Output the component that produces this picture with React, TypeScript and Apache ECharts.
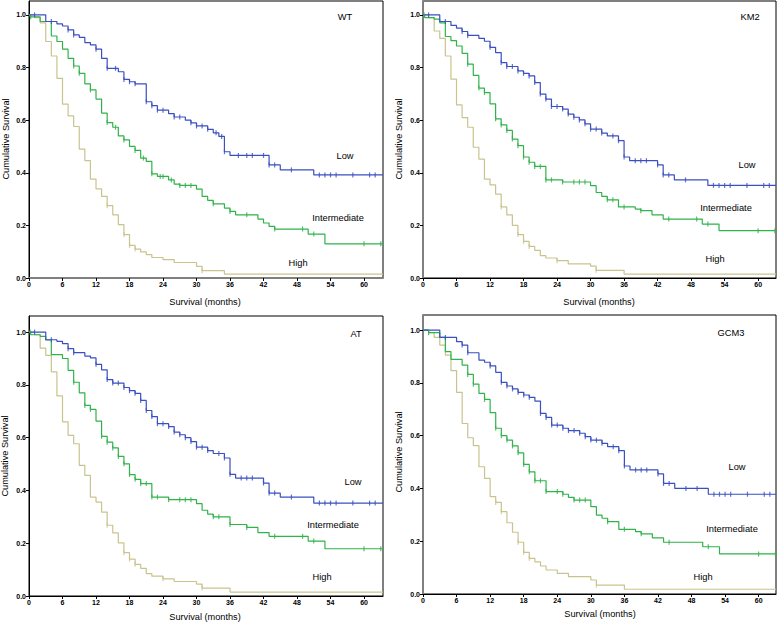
import React, { useEffect, useRef } from "react";
import * as echarts from "echarts";

const xTicks = [0, 6, 12, 18, 24, 30, 36, 42, 48, 54, 60];
const yTicks = [0, 0.2, 0.4, 0.6, 0.8, 1.0];
const groupNames = ["Low", "Intermediate", "High"];
const panelTitles = ["WT", "KM2", "AT", "GCM3"];
const xTitle = "Survival (months)";
const yTitle = "Cumulative Survival";

// ---- WT ----
const wtLow = [[0,1],[3,0.975],[5,0.966],[6,0.958],[7,0.943],[8,0.924],[9,0.915],[10,0.895],[11,0.886],[12,0.87],[13,0.835],[14,0.797],[16,0.784],[17,0.755],[18,0.746],[19,0.738],[21,0.67],[22,0.655],[23,0.638],[25,0.625],[26,0.612],[28,0.6],[29,0.59],[30,0.578],[32,0.565],[33,0.552],[34,0.538],[35,0.48],[36,0.466],[43,0.43],[45,0.411],[51,0.392]];
const wtInt = [[0,1],[0.2,0.993],[2,0.975],[4,0.92],[5,0.899],[6,0.87],[7,0.835],[8,0.806],[9,0.778],[10,0.738],[11,0.715],[12,0.68],[13,0.627],[14,0.591],[15,0.573],[16,0.54],[17,0.525],[18,0.5],[19,0.485],[20,0.456],[21,0.443],[22,0.396],[23,0.386],[25,0.373],[26,0.357],[27,0.352],[30,0.338],[31,0.31],[32,0.295],[33,0.282],[35,0.266],[36,0.253],[37,0.24],[41,0.224],[42,0.209],[43,0.196],[44,0.186],[50,0.167],[53,0.13]];
const wtHigh = [[0,1],[1,0.99],[2,0.97],[3,0.899],[4,0.844],[5,0.759],[6,0.661],[7,0.616],[8,0.576],[9,0.49],[10,0.446],[11,0.376],[12,0.339],[13,0.31],[14,0.275],[15,0.24],[16,0.203],[17,0.165],[18,0.124],[19,0.11],[20,0.099],[21,0.089],[22,0.078],[24,0.07],[26,0.059],[30,0.044],[31,0.028],[35,0.015]];
const wtLowC = [1,4,7,8,12,14,15.5,17,18,19,21,22,23,24,26,27,29,30,31,32,33.5,34.5,35,37.5,39,40,42,43,44,47,52,53,54,55,58,61,62];
const wtIntC = [0.3,8,9,11,14,15.5,17,19,20.5,22,23.5,24,25.5,27,28,29,33,36,39,44,49,51,60,63];
const wtHighC = [14,17,18,19,31];

// ---- KM2 ----
const km2Low = [[0,1],[3,0.975],[5,0.96],[6,0.95],[7,0.937],[8,0.922],[10,0.911],[11,0.9],[12,0.877],[13,0.857],[14,0.819],[15,0.804],[17,0.787],[18,0.778],[19,0.768],[20,0.743],[21,0.699],[22,0.68],[23,0.652],[25,0.642],[26,0.623],[27,0.611],[28,0.601],[29,0.586],[30,0.566],[32,0.551],[33,0.54],[35,0.522],[36,0.46],[37,0.446],[42,0.43],[43,0.392],[45,0.373],[51,0.352]];
const km2Int = [[0,1],[0.3,0.99],[2,0.984],[3,0.97],[4,0.918],[5,0.902],[6,0.882],[7,0.854],[8,0.813],[9,0.77],[10,0.722],[11,0.705],[12,0.662],[13,0.605],[14,0.582],[15,0.561],[16,0.528],[17,0.503],[18,0.46],[19,0.44],[20,0.424],[22,0.373],[25,0.365],[30,0.351],[31,0.325],[32,0.31],[33,0.297],[35,0.27],[38,0.262],[39,0.256],[41,0.24],[43,0.224],[50,0.205],[53,0.18]];
const km2High = [[0,1],[1,0.99],[2,0.939],[3,0.911],[4,0.844],[5,0.756],[6,0.658],[7,0.61],[8,0.573],[9,0.497],[10,0.452],[11,0.376],[12,0.354],[13,0.319],[14,0.27],[15,0.24],[16,0.2],[17,0.165],[18,0.139],[19,0.12],[20,0.105],[21,0.085],[22,0.076],[24,0.066],[26,0.054],[30,0.045],[31,0.029],[36,0.015]];
const km2LowC = [1,4,7,8,12,14,15,16,17,18,19,20,21,22,23,24,25,26,27,28,29,30,31,32,34,35,36,38,39,40,42,43,44,47,52,53,54,55,58,61,62];
const km2IntC = [0.2,8,10,11,13,14,15,16,17,18,19,20,21,22,23,25,27,28,29,33,34,36,39,44,49,51,60,63];
const km2HighC = [14,17,18,19,24,31];

// ---- AT ----
const atLow = [[0,1],[3,0.971],[5,0.965],[6,0.956],[7,0.937],[8,0.922],[10,0.909],[11,0.902],[12,0.878],[13,0.857],[14,0.82],[15,0.807],[17,0.79],[18,0.778],[19,0.768],[20,0.741],[21,0.703],[22,0.68],[23,0.653],[25,0.642],[26,0.621],[27,0.611],[28,0.6],[29,0.585],[30,0.564],[32,0.551],[33,0.54],[35,0.523],[36,0.461],[37,0.447],[42,0.428],[43,0.39],[45,0.375],[51,0.352]];
const atInt = [[0,1],[0.3,0.99],[2,0.984],[3,0.97],[4,0.915],[6,0.9],[7,0.855],[8,0.81],[9,0.77],[10,0.722],[11,0.707],[12,0.663],[13,0.605],[14,0.583],[15,0.561],[16,0.529],[17,0.501],[18,0.46],[19,0.442],[20,0.426],[22,0.375],[25,0.365],[30,0.35],[31,0.325],[32,0.31],[33,0.3],[36,0.271],[39,0.26],[41,0.24],[43,0.226],[50,0.208],[53,0.179]];
const atHigh = [[0,1],[1,0.99],[2,0.939],[3,0.912],[4,0.849],[5,0.758],[6,0.66],[7,0.609],[8,0.577],[9,0.495],[10,0.457],[11,0.375],[12,0.356],[13,0.318],[14,0.268],[15,0.239],[16,0.201],[17,0.164],[18,0.14],[19,0.12],[20,0.105],[21,0.085],[22,0.075],[24,0.065],[26,0.055],[30,0.045],[31,0.03],[36,0.015]];
const atLowC = [1,4,7,8,12,14,15,16,17,18,19,20,21,22,23,24,25,26,27,28,29,30,31,32,34,35,36,38,39,40,42,43,44,47,52,53,54,55,58,61,62];
const atIntC = [0.2,8,10,11,13,14,15,16,17,18,19,20,21,22,23,25,27,28,29,33,34,36,39,44,49,51,60,63];
const atHighC = [14,17,18,19,24,31];

// ---- GCM3 ----
const gcmLow = [[0,1],[3,0.972],[6,0.956],[7,0.943],[8,0.914],[10,0.886],[11,0.878],[12,0.864],[13,0.84],[14,0.802],[15,0.788],[16,0.777],[17,0.764],[18,0.754],[19,0.745],[20,0.731],[21,0.684],[22,0.669],[23,0.64],[25,0.628],[26,0.619],[28,0.609],[29,0.596],[30,0.583],[32,0.571],[33,0.558],[35,0.543],[36,0.485],[37,0.47],[42,0.455],[43,0.419],[45,0.4],[51,0.378]];
const gcmInt = [[0,1],[1,0.99],[3,0.972],[4,0.918],[5,0.889],[7,0.867],[8,0.832],[9,0.795],[10,0.76],[11,0.737],[12,0.687],[13,0.628],[14,0.6],[15,0.583],[16,0.561],[17,0.535],[18,0.491],[19,0.463],[20,0.429],[22,0.388],[25,0.378],[26,0.366],[27,0.356],[30,0.331],[31,0.299],[32,0.287],[33,0.274],[35,0.245],[38,0.236],[39,0.228],[41,0.213],[43,0.196],[50,0.179],[53,0.152]];
const gcmHigh = [[0,1],[1,0.99],[2,0.972],[3,0.943],[4,0.905],[5,0.846],[6,0.764],[7,0.646],[8,0.592],[9,0.562],[10,0.482],[11,0.438],[12,0.369],[13,0.347],[14,0.312],[15,0.27],[16,0.234],[17,0.196],[18,0.158],[19,0.135],[20,0.122],[21,0.106],[22,0.091],[24,0.078],[26,0.066],[30,0.053],[31,0.034],[36,0.018]];
const gcmLowC = [4,7,8,12,14,15,16,17,18,19,21,22,23,24,25,26,27,28,29,30,31,32,34,35,36,38,39,40,42,43,44,47,49,52,53,54,55,58,61,62];
const gcmIntC = [1,8,9,11,13,14,15,16,17,18,19,20,21,22,24,25,27,28,29,33,36,39,44,51,60,63];
const gcmHighC = [13,14,17,18,19,31];

const COLORS = ["#3a4fc0", "#2fb34a", "#c9c38d"];
const FONT = "'Liberation Sans', Arial, sans-serif";

const panels = [
  { curves: [wtLow, wtInt, wtHigh], censors: [wtLowC, wtIntC, wtHighC],
    grid: { left: 29, top: 1, width: 354, height: 277 }, xMax: 63.4, yMax: 1.053,
    titlePos: [345, 17], labelPos: [[345, 156], [338, 218], [298, 263]],
    yNamePos: [6, 139], xNamePos: [205, 302],
    xLine: { color: "#808080", width: 2 }, yLine: { color: "#000", width: 1 } },
  { curves: [km2Low, km2Int, km2High], censors: [km2LowC, km2IntC, km2HighC],
    grid: { left: 423, top: 1, width: 353, height: 277 }, xMax: 63.2, yMax: 1.053,
    titlePos: [750, 17], labelPos: [[747, 165], [726, 208], [715, 259]],
    yNamePos: [399, 139], xNamePos: [599, 302],
    xLine: { color: "#000", width: 1 }, yLine: { color: "#808080", width: 2 } },
  { curves: [atLow, atInt, atHigh], censors: [atLowC, atIntC, atHighC],
    grid: { left: 29, top: 316, width: 354, height: 280 }, xMax: 63.4, yMax: 1.061,
    titlePos: [356, 334], labelPos: [[353, 482], [333, 525], [322, 577]],
    yNamePos: [5, 456], xNamePos: [205, 617],
    xLine: { color: "#000", width: 1 }, yLine: { color: "#000", width: 1 } },
  { curves: [gcmLow, gcmInt, gcmHigh], censors: [gcmLowC, gcmIntC, gcmHighC],
    grid: { left: 423, top: 315, width: 353, height: 279 }, xMax: 63.1, yMax: 1.057,
    titlePos: [731, 333], labelPos: [[737, 467], [732, 529], [703, 577]],
    yNamePos: [399, 452], xNamePos: [600, 614],
    xLine: { color: "#000", width: 1 }, yLine: { color: "#808080", width: 2 } },
];

function stepValue(curve: number[][], t: number): number {
  let v = curve[0][1];
  for (const p of curve) {
    if (p[0] <= t + 1e-9) v = p[1];
    else break;
  }
  return v;
}

function buildOption() {
  const grids: any[] = [];
  const xAxes: any[] = [];
  const yAxes: any[] = [];
  const series: any[] = [];
  const graphics: any[] = [];

  panels.forEach((p, i) => {
    grids.push({ ...p.grid, show: true, borderColor: "#000", borderWidth: 1, backgroundColor: "transparent" });
    xAxes.push({
      type: "value", gridIndex: i, min: 0, max: p.xMax,
      axisLine: { show: true, onZero: false, lineStyle: p.xLine },
      axisTick: { show: true, length: 3, customValues: xTicks, lineStyle: { color: "#000", width: 1 } },
      axisLabel: { customValues: xTicks, fontSize: 7, fontWeight: "bold", color: "#000", margin: 3, fontFamily: FONT },
      splitLine: { show: false },
    });
    yAxes.push({
      type: "value", gridIndex: i, min: 0, max: p.yMax,
      axisLine: { show: true, onZero: false, lineStyle: p.yLine },
      axisTick: { show: true, length: 3, customValues: yTicks, lineStyle: { color: "#000", width: 1 } },
      axisLabel: { customValues: yTicks, fontSize: 7, fontWeight: "bold", color: "#000", margin: 3, fontFamily: FONT,
        formatter: (v: number) => v.toFixed(1) },
      splitLine: { show: false },
    });
    p.curves.forEach((c, k) => {
      const data = c.concat([[p.xMax, c[c.length - 1][1]]]);
      series.push({
        type: "line", xAxisIndex: i, yAxisIndex: i, step: "end", data,
        showSymbol: false, symbol: "none", lineStyle: { color: COLORS[k], width: 1.2 },
        z: 3 - k, silent: true,
      });
    });
    p.censors.forEach((cs, k) => {
      series.push({
        type: "scatter", xAxisIndex: i, yAxisIndex: i,
        data: cs.map((t) => [t, stepValue(p.curves[k], t)]),
        symbol: "rect", symbolSize: [1.2, 5], itemStyle: { color: COLORS[k] },
        z: 4, silent: true,
      });
    });
    graphics.push({ type: "text", x: p.titlePos[0], y: p.titlePos[1],
      style: { text: panelTitles[i], fontSize: 9.3, fontFamily: FONT, fill: "#000", align: "center", verticalAlign: "middle", textAlign: "center", textVerticalAlign: "middle" } });
    groupNames.forEach((g, k) => {
      graphics.push({ type: "text", x: p.labelPos[k][0], y: p.labelPos[k][1],
        style: { text: g, fontSize: 9.3, fontFamily: FONT, fill: "#000", align: "center", verticalAlign: "middle", textAlign: "center", textVerticalAlign: "middle" } });
    });
    graphics.push({ type: "text", x: p.xNamePos[0], y: p.xNamePos[1],
      style: { text: xTitle, fontSize: 9.2, fontFamily: FONT, fill: "#000", align: "center", verticalAlign: "middle", textAlign: "center", textVerticalAlign: "middle" } });
    graphics.push({ type: "text", x: p.yNamePos[0], y: p.yNamePos[1], rotation: Math.PI / 2,
      style: { text: yTitle, fontSize: 9.2, fontFamily: FONT, fill: "#000", align: "center", verticalAlign: "middle", textAlign: "center", textVerticalAlign: "middle" } });
  });

  return {
    animation: false,
    backgroundColor: "#fff",
    grid: grids,
    xAxis: xAxes,
    yAxis: yAxes,
    series,
    graphic: graphics,
  };
}

export default function App() {
  const ref = useRef<HTMLDivElement>(null);
  useEffect(() => {
    if (!ref.current) return;
    const chart = echarts.init(ref.current, null, { renderer: "svg" });
    chart.setOption(buildOption() as any);
    return () => chart.dispose();
  }, []);
  return <div ref={ref} style={{ position: "absolute", left: 0, top: 0, width: 778, height: 623 }} />;
}
